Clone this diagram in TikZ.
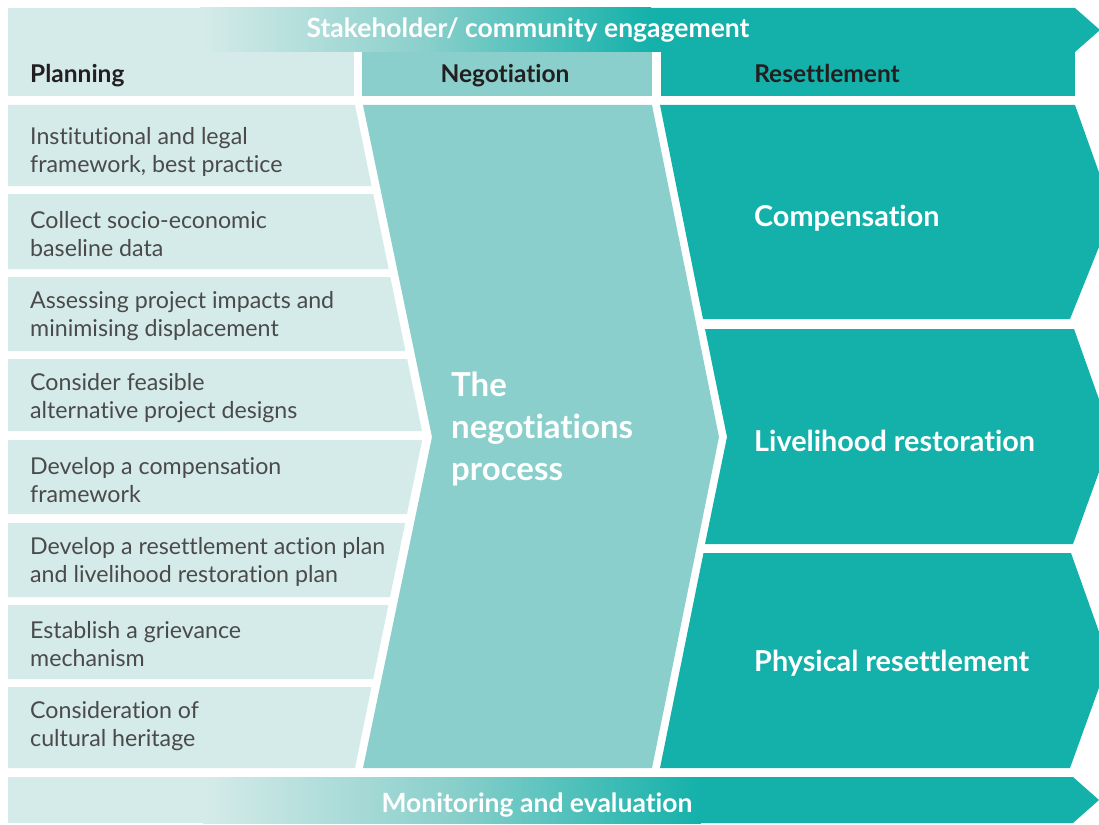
\documentclass[tikz,border=0pt]{standalone}
\usepackage{fontspec}
\setmainfont{Lato}[Ligatures={TeX,NoCommon}]
\definecolor{cLight}{HTML}{D5EBE9}
\definecolor{cMid}{HTML}{8ACFCB}
\definecolor{cTeal}{HTML}{13B1AA}
\definecolor{cItem}{HTML}{4A4A4A}
\definecolor{cHead}{HTML}{231F20}
\begin{document}
\begin{tikzpicture}[x=1pt,y=-1pt,
  item/.style={anchor=west,align=left,font=\fontsize{23.2}{28}\selectfont,text=cItem,inner sep=0pt},
  head/.style={font=\bfseries\fontsize{24.5}{28}\selectfont,text=cHead,inner sep=0pt},
  big/.style={anchor=west,align=left,font=\bfseries\fontsize{33}{42}\selectfont,text=white,inner sep=0pt},
  res/.style={anchor=west,font=\bfseries\fontsize{28.8}{32}\selectfont,text=white,inner sep=0pt},
  banner/.style={font=\bfseries\fontsize{26.5}{30}\selectfont,text=white,inner sep=0pt},
  grad/.style={left color=cLight,right color=cTeal,middle color=cMid}]
\useasboundingbox (0,0) rectangle (1099,824);
\clip (0,0) rectangle (1099,824);
% top banner
\fill[cLight] (8,8) rectangle (201,52);
\shade[grad] (200,8) rectangle (651,52);
\fill[cTeal] (650,8) -- (1075,8) -- (1100,30) -- (1075,52) -- (650,52) -- cycle;
% header row
\fill[cLight] (8,52) rectangle (354,96);
\fill[cMid] (362,52) rectangle (652,96);
\fill[cTeal] (661,52) rectangle (1075,96);
% planning rows
\fill[cLight] (8,105) -- (355,105) -- (371.6,186) -- (8,186) -- cycle;
\fill[cLight] (8,194) -- (373.3,194) -- (388.7,269) -- (8,269) -- cycle;
\fill[cLight] (8,277) -- (390.3,277) -- (405.5,351) -- (8,351) -- cycle;
\fill[cLight] (8,359) -- (407.2,359) -- (422,431) -- (8,431) -- cycle;
\fill[cLight] (8,440) -- (422.2,440) -- (407,514) -- (8,514) -- cycle;
\fill[cLight] (8,523) -- (405.2,523) -- (390,597) -- (8,597) -- cycle;
\fill[cLight] (8,605) -- (388.4,605) -- (373.2,679) -- (8,679) -- cycle;
\fill[cLight] (8,687) -- (371.5,687) -- (355,768) -- (8,768) -- cycle;
% negotiation chevron
\fill[cMid] (363,105) -- (652,105) -- (719,437) -- (652,768) -- (363,768) -- (432,437) -- cycle;
% resettlement chevrons
\fill[cTeal] (660,105) -- (1075,105) -- (1113,212) -- (1070,319) -- (703,319) -- cycle;
\fill[cTeal] (705,329) -- (1074,329) -- (1112,436) -- (1073,544) -- (705,544) -- (727,437) -- cycle;
\fill[cTeal] (703.5,553) -- (1071,553) -- (1109,660) -- (1070,768) -- (660,768) -- cycle;
% bottom banner
\fill[cLight] (8,777) rectangle (204,823);
\shade[grad] (203,777) rectangle (701,823);
\fill[cTeal] (700,777) -- (1073,777) -- (1099,800) -- (1073,823) -- (700,823) -- cycle;
% texts
\node[banner,anchor=base] (stake) at (528,38) {Stakeholder/ community engagement};
\node[head,anchor=base west] (hplan) at (30,83) {Planning};
\node[head,anchor=base] (hneg) at (505,83) {Negotiation};
\node[head,anchor=base] (hres) at (827,83) {Resettlement};
\node[item] (p1) at (30,152) {Institutional and legal\\framework, best practice};
\node[item] (p2) at (30,234) {Collect socio-economic\\baseline data};
\node[item] (p3) at (30,316) {Assessing project impacts and\\minimising displacement};
\node[item] (p4) at (30,398) {Consider feasible\\alternative project designs};
\node[item] (p5) at (30,480) {Develop a compensation\\framework};
\node[item] (p6) at (30,562) {Develop a resettlement action plan\\and livelihood restoration plan};
\node[item] (p7) at (30,644) {Establish a grievance\\mechanism};
\node[item] (p8) at (30,726) {Consideration of\\cultural heritage};
\node[big] (negproc) at (451,429) {The\\negotiations\\process};
\node[res] (comp) at (754,218) {Compensation};
\node[res] (live) at (754,441) {Livelihood restoration};
\node[res] (phys) at (754,663) {Physical resettlement};
\node[banner,anchor=base] (mon) at (537,812) {Monitoring and evaluation};
\end{tikzpicture}
\end{document}
